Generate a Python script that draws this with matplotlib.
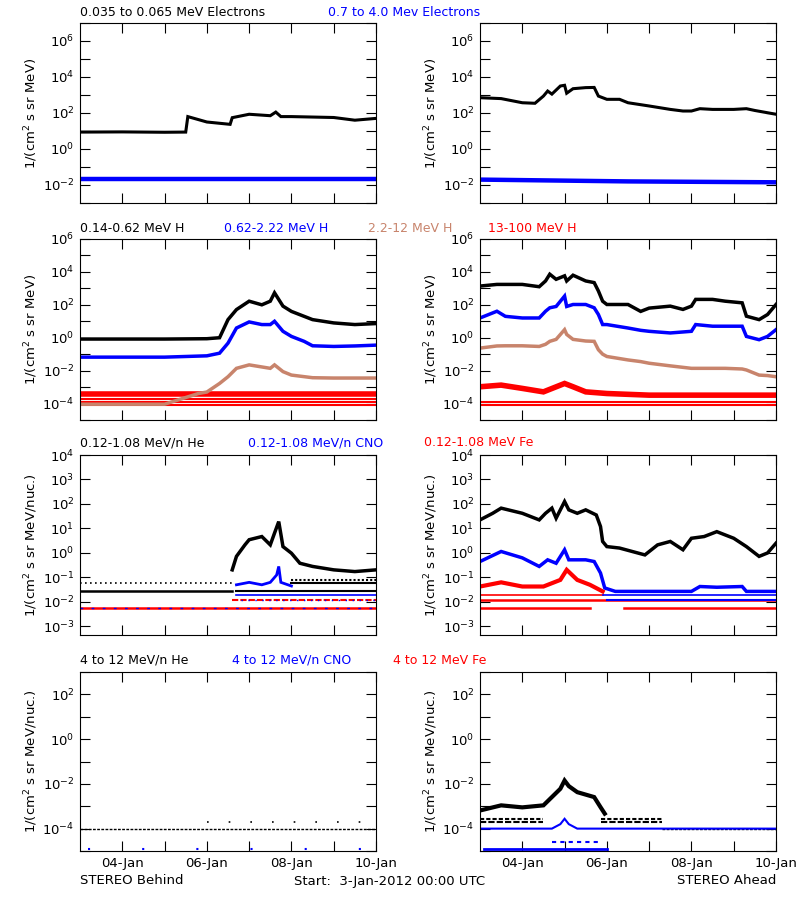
import numpy as np
import matplotlib
matplotlib.use("Agg")
import matplotlib.pyplot as plt
from matplotlib.ticker import FixedLocator, NullFormatter

plt.rcParams['font.family'] = ['DejaVu Sans']
BLACK, BLUE, TAN, RED = 'black', '#0000ff', '#c8846c', '#ff0000'

# ---------------- data (days since 3-Jan-2012 00:00, log10 flux) ----------------
# Row 1 electrons
eB_day = [0, 1.0, 2.0, 2.5, 2.55, 3.0, 3.55, 3.6, 4.0, 4.5, 4.63, 4.75, 5.0, 6.0, 6.5, 7.0]
eB_low = [0.94, 0.95, 0.93, 0.94, 1.8, 1.5, 1.37, 1.74, 1.93, 1.85, 2.05, 1.8, 1.8, 1.75, 1.6, 1.7]
eB_hi_day = [0, 7]
eB_hi = [-1.69, -1.69]
eA_day = [0, 0.5, 1.0, 1.3, 1.5, 1.6, 1.7, 1.9, 2.0, 2.05, 2.2, 2.5, 2.7, 2.8, 3.0, 3.3, 3.5,
          4.0, 4.5, 4.8, 5.0, 5.2, 5.5, 6.0, 6.3, 6.5, 7.0]
eA_low = [2.85, 2.8, 2.57, 2.54, 2.94, 3.22, 3.05, 3.5, 3.54, 3.1, 3.35, 3.41, 3.42, 2.94, 2.76,
          2.76, 2.57, 2.39, 2.2, 2.11, 2.11, 2.24, 2.2, 2.2, 2.24, 2.14, 1.93]
eA_hi_day = [0, 3.5, 7]
eA_hi = [-1.7, -1.8, -1.85]

# Row 2 protons, Behind
hB_day = [0, 1.0, 2.0, 3.0, 3.3, 3.5, 3.7, 4.0, 4.3, 4.5, 4.6, 4.8, 5.0, 5.3, 5.5, 6.0, 6.5, 7.0]
hB_p1 = [-0.08, -0.08, -0.08, -0.06, -0.0, 1.1, 1.71, 2.22, 2.0, 2.22, 2.73, 1.92, 1.6, 1.3, 1.1, 0.9, 0.8, 0.86]
hB_p2 = [-1.18, -1.18, -1.18, -1.1, -0.94, -0.33, 0.59, 0.96, 0.8, 0.8, 1.0, 0.39, 0.08, -0.22, -0.49, -0.53, -0.5, -0.45]
hB_p3_day = [0, 1.0, 2.0, 2.8, 3.0, 3.3, 3.5, 3.7, 4.0, 4.5, 4.6, 4.8, 5.0, 5.5, 6.0, 7.0]
hB_p3 = [-4.04, -4.04, -4.04, -3.39, -3.3, -2.78, -2.37, -1.86, -1.65, -1.86, -1.65, -2.06, -2.27, -2.43, -2.45, -2.45]
hB_p4_day = [0, 7]
hB_p4 = [-3.4, -3.4]
hB_floor = [-3.7, -3.9, -4.1]

# Row 2 protons, Ahead
hA_day = [0, 0.4, 0.6, 1.0, 1.4, 1.55, 1.65, 1.8, 2.0, 2.05, 2.2, 2.5, 2.7, 2.8, 2.9, 3.0, 3.5,
          3.8, 4.0, 4.5, 4.8, 5.0, 5.1, 5.5, 5.8, 6.2, 6.3, 6.6, 6.8, 7.0]
hA_p1 = [3.14, 3.24, 3.24, 3.24, 3.1, 3.45, 3.86, 3.55, 3.76, 3.45, 3.8, 3.45, 3.35, 2.84, 2.22,
         2.02, 2.02, 1.6, 1.8, 1.92, 1.72, 1.92, 2.33, 2.33, 2.22, 2.12, 1.31, 1.1, 1.41, 2.02]
hA_p2 = [1.2, 1.61, 1.3, 1.2, 1.2, 1.61, 1.82, 1.9, 2.53, 1.9, 2.02, 2.02, 1.82, 1.41, 0.8,
         0.8, 0.59, 0.45, 0.39, 0.29, 0.35, 0.39, 0.8, 0.7, 0.7, 0.7, 0.08, -0.12, 0.08, 0.49]
hA_p3 = [-0.63, -0.5, -0.49, -0.49, -0.53, -0.4, -0.22, -0.1, 0.49, 0.2, -0.1, -0.2, -0.22, -0.73, -1.0,
         -1.14, -1.35, -1.45, -1.55, -1.71, -1.8, -1.86, -1.86, -1.86, -1.86, -1.9, -1.96, -2.27, -2.3, -2.37]
hA_p4_day = [0, 0.5, 1.0, 1.5, 2.0, 2.2, 2.5, 3.0, 4.0, 7.0]
hA_p4 = [-2.98, -2.88, -3.08, -3.29, -2.78, -2.98, -3.29, -3.39, -3.49, -3.49]
hA_floor = [-3.9, -4.1]

# Row 3 low-energy heavy ions, Behind
lB_he_day = [3.6, 3.7, 3.9, 4.0, 4.3, 4.5, 4.6, 4.7, 4.8, 5.0, 5.2, 5.5, 6.0, 6.5, 7.0]
lB_he = [-0.69, -0.14, 0.33, 0.54, 0.67, 0.33, 0.81, 1.28, 0.26, -0.01, -0.42, -0.55, -0.69, -0.76, -0.69]
lB_he_floor = [-1.23, -1.54]
lB_cno_day = [3.7, 4.0, 4.3, 4.5, 4.65, 4.7, 4.75, 5.0]
lB_cno = [-1.3, -1.2, -1.3, -1.2, -0.9, -0.55, -1.2, -1.35]
lB_floor = [-1.71, -1.91, -2.25]

# Row 3 low-energy heavy ions, Ahead
lA_day = [0, 0.3, 0.5, 1.0, 1.4, 1.55, 1.7, 1.8, 2.0, 2.1, 2.3, 2.5, 2.75, 2.85, 2.9, 3.0, 3.3,
          3.6, 3.9, 4.2, 4.5, 4.8, 5.0, 5.3, 5.6, 6.0, 6.3, 6.6, 6.8, 7.0]
lA_he = [1.35, 1.62, 1.83, 1.62, 1.35, 1.62, 1.83, 1.42, 2.1, 1.76, 1.62, 1.76, 1.55, 1.08, 0.47,
         0.26, 0.2, 0.06, -0.08, 0.33, 0.47, 0.13, 0.6, 0.67, 0.87, 0.6, 0.26, -0.14, 0.0, 0.4]
lA_cno_day = [0, 0.5, 1.0, 1.4, 1.6, 1.8, 2.0, 2.1, 2.5, 2.7, 2.85, 2.95, 3.2, 5.0, 5.2, 5.6, 6.2, 6.3, 7.0]
lA_cno = [-0.35, 0.06, -0.2, -0.55, -0.28, -0.42, 0.13, -0.28, -0.28, -0.35, -0.82, -1.43, -1.57,
          -1.57, -1.37, -1.4, -1.37, -1.57, -1.57]
lA_fe_day = [0, 0.5, 1.0, 1.5, 1.9, 2.05, 2.3, 2.6, 2.9]
lA_fe = [-1.37, -1.2, -1.37, -1.37, -1.1, -0.69, -1.1, -1.3, -1.57]
lA_floor = [-1.71, -1.91, -2.25]

# Row 4 high-energy heavy ions
hiB_floor = [-4.0]
hiB_dots = [-3.7, -4.92]
hiA_day = [0, 0.5, 1.0, 1.5, 1.7, 1.9, 2.0, 2.1, 2.3, 2.7, 2.85, 2.95]
hiA_he = [-3.19, -2.96, -3.05, -2.96, -2.59, -2.22, -1.85, -2.1, -2.37, -2.59, -3.04, -3.33]
hiA_cno_day = [0, 1.7, 1.9, 2.0, 2.1, 2.3, 2.8, 7.0]
hiA_cno = [-4.0, -4.0, -3.8, -3.56, -3.8, -4.0, -4.0, -4.0]
hiA_floor = [-3.56, -3.7]
hiA_floor2 = [-4.59, -4.92]

# --------------------------- figure ---------------------------
W, H = 800, 900
fig = plt.figure(figsize=(W / 100, H / 100), dpi=100)

cols = [(80, 376), (480, 776)]
rows = [(23, 203), (239, 420), (455, 635), (672, 851)]
ylims = [(-3, 7), (-5, 6), (-3.35, 4), (-5, 3)]
ylabels = ['1/(cm$^2$ s sr MeV)'] * 2 + ['1/(cm$^2$ s sr MeV/nuc.)'] * 2

axes = {}
for r, (yt, yb) in enumerate(rows):
    for c, (xl, xr) in enumerate(cols):
        ax = fig.add_axes([xl / W, 1 - yb / H, (xr - xl) / W, (yb - yt) / H])
        ax.set_yscale('log')
        lo, hi = ylims[r]
        ax.set_ylim(10 ** lo, 10 ** hi)
        ax.set_xlim(0, 7)
        allt = [10.0 ** k for k in range(int(np.ceil(lo)), int(np.floor(hi)) + 1)]
        if r == 1:
            maj = [10.0 ** k for k in range(-4, 7, 2)]
        elif r == 2:
            maj = allt
        elif r == 0:
            maj = [10.0 ** k for k in range(-2, 7, 2)]
        else:
            maj = [10.0 ** k for k in range(-4, 3, 2)]
        ax.yaxis.set_major_locator(FixedLocator(maj))
        ax.yaxis.set_minor_locator(FixedLocator([t for t in allt if t not in maj]))
        ax.yaxis.set_minor_formatter(NullFormatter())
        ax.set_xticks([1, 3, 5, 7])
        ax.set_xticks([2, 4, 6], minor=True)
        if r == 3:
            ax.set_xticklabels(['04-Jan', '06-Jan', '08-Jan', '10-Jan'])
        else:
            ax.set_xticklabels([])
        ax.tick_params(which='both', direction='in', top=True, right=True, labelsize=9.5,
                       length=7, width=0.8, pad=4)
        ax.tick_params(axis='y', which='minor', length=7)
        ax.set_ylabel(ylabels[r], fontsize=9.5, labelpad=2)
        for s in ax.spines.values():
            s.set_linewidth(0.8)
        axes[(r, c)] = ax


def pl(ax, d, v, color, lw=2.5, **kw):
    ax.plot(d, 10 ** np.asarray(v, float), color=color, lw=lw, solid_joinstyle='miter', **kw)


def fl(ax, v, color, d0=0, d1=7, lw=1.0, ls='-'):
    ax.plot([d0, d1], [10 ** v, 10 ** v], color=color, lw=lw, ls=ls)


# Row 1
ax = axes[(0, 0)]
pl(ax, eB_day, eB_low, BLACK, 2.2)
pl(ax, eB_hi_day, eB_hi, BLUE, 3.2)
ax = axes[(0, 1)]
pl(ax, eA_day, eA_low, BLACK, 2.2)
pl(ax, eA_hi_day, eA_hi, BLUE, 3.2)

# Row 2
ax = axes[(1, 0)]
for v in hB_floor:
    fl(ax, v, RED, lw=1.5)
pl(ax, hB_p4_day, hB_p4, RED, 4)
pl(ax, hB_p3_day, hB_p3, TAN, 2.5)
pl(ax, hB_day, hB_p2, BLUE, 2.5)
pl(ax, hB_day, hB_p1, BLACK, 2.5)
ax = axes[(1, 1)]
for v in hA_floor:
    fl(ax, v, RED, lw=1.5)
pl(ax, hA_p4_day, hA_p4, RED, 4)
pl(ax, hA_day, hA_p3, TAN, 2.5)
pl(ax, hA_day, hA_p2, BLUE, 2.5)
pl(ax, hA_day, hA_p1, BLACK, 2.5)

# Row 3
ax = axes[(2, 0)]
fl(ax, lB_he_floor[0], BLACK, 0, 3.6, lw=1.2, ls=(0, (1, 2)))
fl(ax, lB_he_floor[1], BLACK, 0, 3.6, lw=1.8)
fl(ax, -1.1, BLACK, 5.0, 7, lw=1.5, ls=(0, (1, 1)))
fl(ax, lB_he_floor[0], BLACK, 5.0, 7, lw=1.5)
fl(ax, lB_he_floor[1], BLACK, 3.7, 7, lw=1.5)
fl(ax, lB_floor[0], BLUE, 3.7, 7, lw=1.2)
fl(ax, lB_floor[1], RED, 3.6, 7, lw=1.5, ls=(0, (3, 1)))
fl(ax, lB_floor[1], BLUE, 3.8, 7, lw=1.0, ls=(0, (1, 4)))
fl(ax, lB_floor[2], RED, lw=1.8)
fl(ax, lB_floor[2], BLUE, lw=1.0, ls=(0, (2, 6)))
pl(ax, lB_cno_day, lB_cno, BLUE, 2.0)
pl(ax, lB_he_day, lB_he, BLACK, 2.5)
ax = axes[(2, 1)]
fl(ax, lA_floor[2], RED, 0, 2.6, lw=1.8)
fl(ax, lA_floor[2], RED, 3.4, 7, lw=1.8)
fl(ax, lA_floor[1], RED, lw=1.8)
fl(ax, lA_floor[1], BLUE, 3.0, 7, lw=1.5)
fl(ax, lA_floor[0], RED, 0, 2.9, lw=1.2)
fl(ax, lA_floor[0], BLUE, 2.9, 7, lw=1.2)
pl(ax, lA_fe_day, lA_fe, RED, 3.0)
pl(ax, lA_cno_day, lA_cno, BLUE, 2.5)
pl(ax, lA_day, lA_he, BLACK, 2.5)

# Row 4
ax = axes[(3, 0)]
fl(ax, hiB_floor[0], BLACK, lw=1.0, ls=(0, (2, 1)))
fl(ax, hiB_dots[0], BLACK, 3.0, 7, lw=1.2, ls=(0, (1, 12)))
fl(ax, hiB_dots[1], BLUE, 0.2, 7, lw=1.5, ls=(0, (1, 25)))
ax = axes[(3, 1)]
fl(ax, hiA_floor2[1], BLUE, 0.1, 3.0, lw=2.0)
fl(ax, hiA_floor2[0], BLUE, 1.7, 2.8, lw=1.5, ls=(0, (2, 2)))
fl(ax, hiA_floor[0], BLACK, 0, 1.5, lw=1.5, ls=(0, (2, 1)))
fl(ax, hiA_floor[1], BLACK, 0, 1.5, lw=1.5, ls=(0, (3, 1)))
fl(ax, hiA_floor[0], BLACK, 2.85, 4.3, lw=1.5, ls=(0, (2, 1)))
fl(ax, hiA_floor[1], BLACK, 2.85, 4.3, lw=1.5, ls=(0, (3, 1)))
fl(ax, hiB_floor[0], BLACK, 4.3, 7, lw=1.0, ls=(0, (2, 1)))
pl(ax, hiA_cno_day, hiA_cno, BLUE, 1.5)
pl(ax, hiA_day, hiA_he, BLACK, 3.0)

# Titles
titles = [
    (12, [(80, '0.035 to 0.065 MeV Electrons', BLACK), (328, '0.7 to 4.0 Mev Electrons', BLUE)]),
    (228, [(80, '0.14-0.62 MeV H', BLACK), (224, '0.62-2.22 MeV H', BLUE),
           (368, '2.2-12 MeV H', TAN), (488, '13-100 MeV H', RED)]),
    (443, [(80, '0.12-1.08 MeV/n He', BLACK), (248, '0.12-1.08 MeV/n CNO', BLUE),
           (424, '0.12-1.08 MeV Fe', RED)]),
    (660, [(80, '4 to 12 MeV/n He', BLACK), (232, '4 to 12 MeV/n CNO', BLUE),
           (393, '4 to 12 MeV Fe', RED)]),
]
for y, parts in titles:
    for x, t, c in parts:
        fig.text(x / W, 1 - y / H, t, color=c, fontsize=9, va='center', ha='left')

fig.text(80 / W, 1 - 881 / H, 'STEREO Behind', fontsize=9.5, va='center', ha='left')
fig.text(776 / W, 1 - 881 / H, 'STEREO Ahead', fontsize=9.5, va='center', ha='right')
fig.text(294 / W, 1 - 881 / H, 'Start:  3-Jan-2012 00:00 UTC', fontsize=9.5, va='center', ha='left')

fig.savefig('out.png', dpi=100)
